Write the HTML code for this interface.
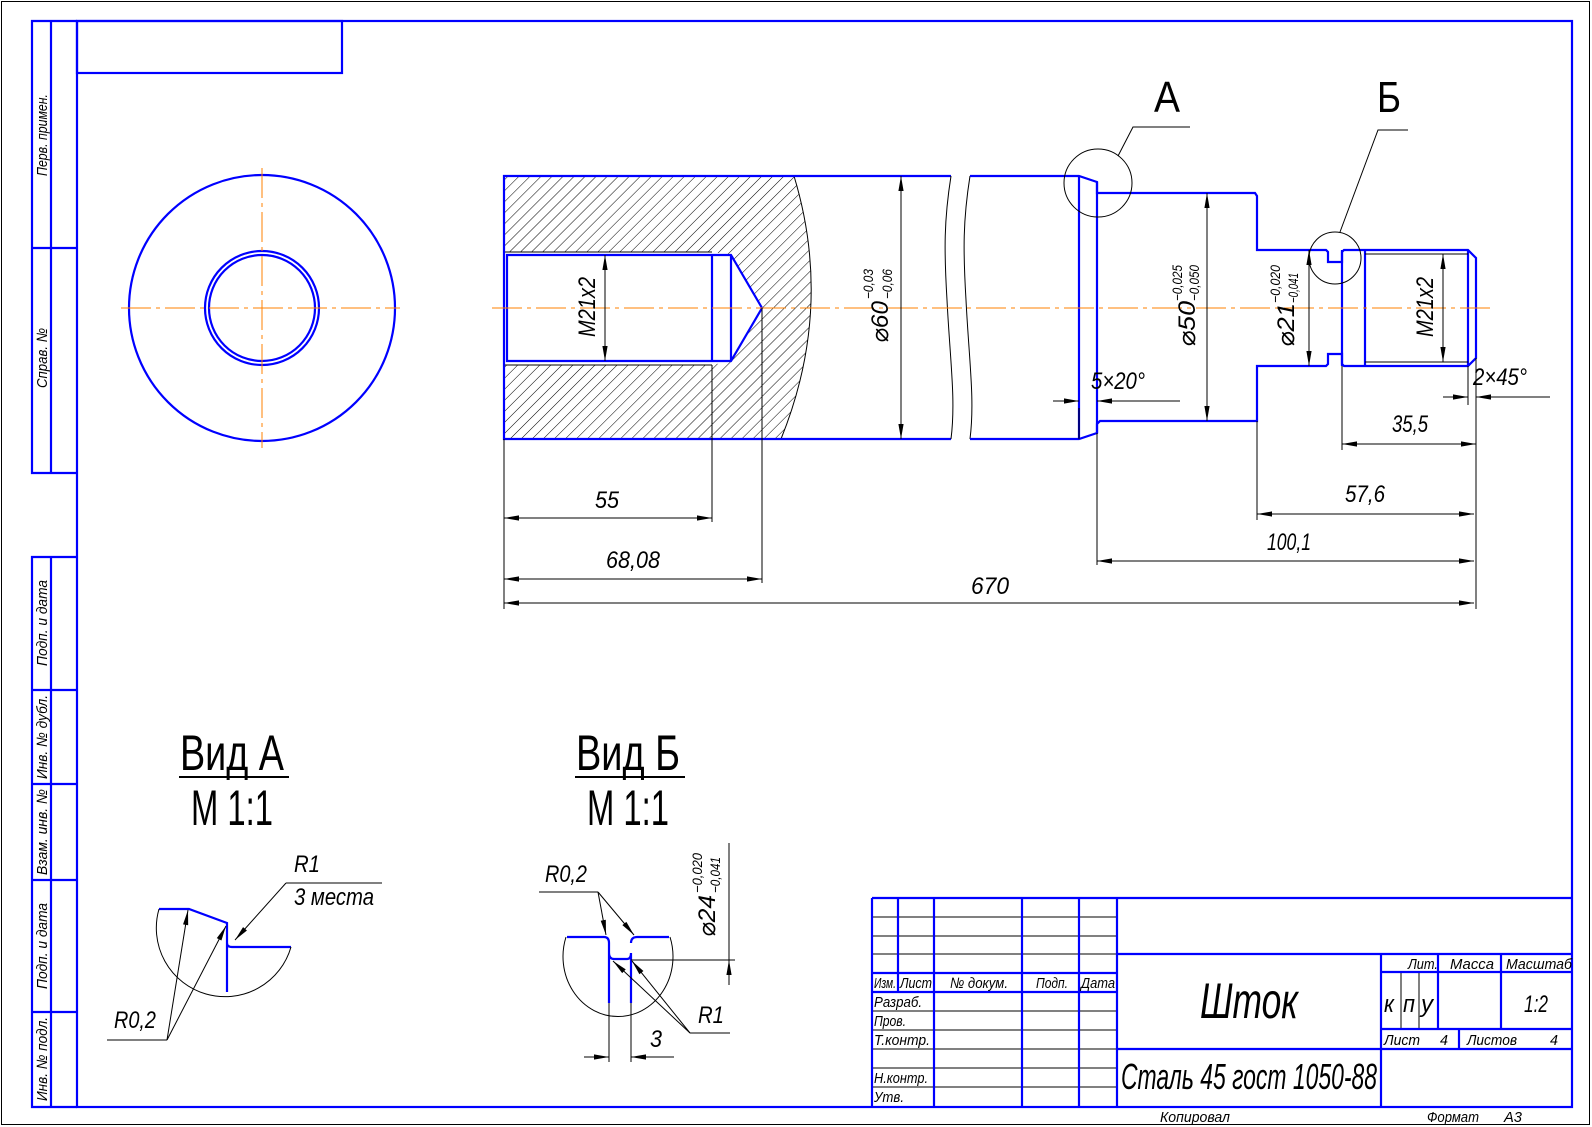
<!DOCTYPE html>
<html><head><meta charset="utf-8"><style>
html,body{margin:0;padding:0;background:#fff;}
svg{display:block;}
text{font-family:"Liberation Sans","DejaVu Sans",sans-serif;fill:#000;}
.i{font-style:italic;}
.b{stroke:#0000ff;stroke-width:2.2;fill:none;}
.t{stroke:#000;stroke-width:1;fill:none;}
.c{stroke:#ff8000;stroke-width:1;fill:none;stroke-dasharray:30 5 4 5;}
</style></head><body>
<svg width="1592" height="1127" viewBox="0 0 1592 1127" xmlns="http://www.w3.org/2000/svg">
<defs>
<marker id="a" viewBox="-16 -4 17 8" markerWidth="17" markerHeight="8" refX="0" refY="0" orient="auto-start-reverse" markerUnits="userSpaceOnUse">
<path d="M0,0 L-15,-2.6 L-15,2.6 Z" fill="#000"/></marker>
<pattern id="h" patternUnits="userSpaceOnUse" width="7.8" height="7.8" patternTransform="rotate(45)">
<line x1="0" y1="0" x2="0" y2="7.8" stroke="#000" stroke-width="1"/></pattern>
</defs>

<rect x="1.5" y="1.5" width="1588" height="1123" class="t"/>
<rect x="77" y="21" width="1495" height="1086" class="b"/>
<path class="b" d="M77,21 L32,21 L32,473 L77,473 M51,21 L51,473 M32,248 L77,248"/>
<path class="b" d="M77,557 L32,557 L32,1107 L77,1107 M51,557 L51,1107 M32,690 L77,690 M32,784 L77,784 M32,880 L77,880 M32,1012 L77,1012"/>
<rect x="77" y="21" width="265" height="52" class="b"/>
<g class="i" font-size="15">
<text transform="translate(47,135) rotate(-90)" text-anchor="middle" textLength="82" lengthAdjust="spacingAndGlyphs">Перв. примен.</text>
<text transform="translate(47,358) rotate(-90)" text-anchor="middle" textLength="60" lengthAdjust="spacingAndGlyphs">Справ. №</text>
<text transform="translate(47,623) rotate(-90)" text-anchor="middle" textLength="86" lengthAdjust="spacingAndGlyphs">Подп. и дата</text>
<text transform="translate(47,737) rotate(-90)" text-anchor="middle" textLength="84" lengthAdjust="spacingAndGlyphs">Инв. № дубл.</text>
<text transform="translate(47,832) rotate(-90)" text-anchor="middle" textLength="86" lengthAdjust="spacingAndGlyphs">Взам. инв. №</text>
<text transform="translate(47,946) rotate(-90)" text-anchor="middle" textLength="86" lengthAdjust="spacingAndGlyphs">Подп. и дата</text>
<text transform="translate(47,1059) rotate(-90)" text-anchor="middle" textLength="84" lengthAdjust="spacingAndGlyphs">Инв. № подл.</text>
</g>

<circle cx="262" cy="308" r="133" class="b"/>
<circle cx="262" cy="308" r="57" class="b"/>
<circle cx="262" cy="308" r="53" class="b"/>
<line x1="121" y1="308" x2="400" y2="308" class="c"/>
<line x1="262" y1="168" x2="262" y2="448" class="c"/>

<path fill="url(#h)" fill-rule="evenodd" d="M504,176 L794,176 Q834,308 781,439 L504,439 Z M504,252 L712,252 L731,255 L762,308 L731,361 L712,365 L504,365 Z"/>
<path class="t" d="M794,176 Q834,308 781,439"/>
<path class="t" d="M504,252 L712,252 M504,365 L712,365"/>
<path class="b" d="M951,176 L504,176 L504,439 L951,439"/>
<path class="b" d="M507,255 L731,255 L762,308 L731,361 L507,361 Z M712,255 L712,361 M731,255 L731,361"/>
<path class="t" d="M951,176 C944,220 944,250 947,300 C950,360 956,400 951,439"/>
<path class="t" d="M970,176 C963,220 963,250 966,300 C969,360 975,400 970,439"/>
<path class="b" d="M970,176 L1079,176 L1097,182 L1097,193 L1255,193 L1257,196 L1257,250 L1326,250 L1328,252 L1328,262 L1342,262 L1342,252 L1344,250 L1468,250 L1476,258 L1476,358 L1468,366 L1344,366 L1342,364 L1342,354 L1328,354 L1328,364 L1326,366 L1257,366 L1257,421 L1100,421 L1097,424 L1097,433 L1079,439 L970,439"/>
<path class="b" d="M1079,176 L1079,439 M1097,182 L1097,433 M1342,250 L1342,366 M1365,250 L1365,366 M1468,250 L1468,366"/>
<path class="t" d="M1365,254 L1468,254 M1365,362 L1468,362"/>
<line x1="492" y1="308" x2="1490" y2="308" class="c"/>

<circle cx="1098" cy="183" r="34" class="t"/>
<path class="t" d="M1118,156 L1133,127 L1190,127"/>
<text x="1167" y="112" font-size="44" text-anchor="middle" textLength="26" lengthAdjust="spacingAndGlyphs">А</text>
<circle cx="1335" cy="258" r="26" class="t"/>
<path class="t" d="M1340,232 L1378,130 L1408,130"/>
<text x="1389" y="112" font-size="44" text-anchor="middle" textLength="24" lengthAdjust="spacingAndGlyphs">Б</text>

<g class="t">
<path d="M901,176 L901,439" marker-start="url(#a)" marker-end="url(#a)"/>
<path d="M605,255 L605,361" marker-start="url(#a)" marker-end="url(#a)"/>
<path d="M1207,193 L1207,421" marker-start="url(#a)" marker-end="url(#a)"/>
<path d="M1309,250 L1309,366" marker-start="url(#a)" marker-end="url(#a)"/>
<path d="M1443,254 L1443,362" marker-start="url(#a)" marker-end="url(#a)"/>
<path d="M1079,439 L1079,408 M1097,433 L1097,565 M1257,421 L1257,520 M1342,366 L1342,450 M1468,366 L1468,405 M1476,358 L1476,609 M504,439 L504,609 M712,365 L712,522 M762,308 L762,583"/>
<path d="M1097,401 L1180,401"/>
<path d="M1053,401 L1079,401" marker-end="url(#a)"/>
<path d="M1122,401 L1097,401" marker-end="url(#a)"/>
<path d="M1443,397 L1468,397" marker-end="url(#a)"/>
<path d="M1550,397 L1476,397" marker-end="url(#a)"/>
<path d="M1342,444 L1476,444" marker-start="url(#a)" marker-end="url(#a)"/>
<path d="M1257,514 L1474,514" marker-start="url(#a)" marker-end="url(#a)"/>
<path d="M1097,561 L1474,561" marker-start="url(#a)" marker-end="url(#a)"/>
<path d="M504,603 L1474,603" marker-start="url(#a)" marker-end="url(#a)"/>
<path d="M504,518 L712,518" marker-start="url(#a)" marker-end="url(#a)"/>
<path d="M504,579 L762,579" marker-start="url(#a)" marker-end="url(#a)"/>
</g>
<g class="i" font-size="24">
<text x="1118" y="389" text-anchor="middle" textLength="54" lengthAdjust="spacingAndGlyphs">5×20°</text>
<text x="1500" y="385" text-anchor="middle" textLength="54" lengthAdjust="spacingAndGlyphs">2×45°</text>
<text x="1410" y="432" text-anchor="middle" textLength="36" lengthAdjust="spacingAndGlyphs">35,5</text>
<text x="1365" y="502" text-anchor="middle" textLength="40" lengthAdjust="spacingAndGlyphs">57,6</text>
<text x="1289" y="550" text-anchor="middle" textLength="44" lengthAdjust="spacingAndGlyphs">100,1</text>
<text x="990" y="594" text-anchor="middle" textLength="38" lengthAdjust="spacingAndGlyphs">670</text>
<text x="607" y="508" text-anchor="middle" textLength="24" lengthAdjust="spacingAndGlyphs">55</text>
<text x="633" y="568" text-anchor="middle" textLength="54" lengthAdjust="spacingAndGlyphs">68,08</text>
<text transform="translate(595,337) rotate(-90)" textLength="60" lengthAdjust="spacingAndGlyphs">M21x2</text>
<text transform="translate(1433,337) rotate(-90)" textLength="60" lengthAdjust="spacingAndGlyphs">M21x2</text>
<g transform="translate(888,343) rotate(-90)">
<text x="0" y="0" textLength="42" lengthAdjust="spacingAndGlyphs">⌀60</text>
<text x="44" y="-15" font-size="14" textLength="30" lengthAdjust="spacingAndGlyphs">−0,03</text>
<text x="44" y="4" font-size="14" textLength="30" lengthAdjust="spacingAndGlyphs">−0,06</text>
</g>
<g transform="translate(1195,347) rotate(-90)">
<text x="0" y="0" textLength="46" lengthAdjust="spacingAndGlyphs">⌀50</text>
<text x="46" y="-13" font-size="14" textLength="36" lengthAdjust="spacingAndGlyphs">−0,025</text>
<text x="46" y="4" font-size="14" textLength="36" lengthAdjust="spacingAndGlyphs">−0,050</text>
</g>
<g transform="translate(1294,347) rotate(-90)">
<text x="0" y="0" textLength="44" lengthAdjust="spacingAndGlyphs">⌀21</text>
<text x="44" y="-14" font-size="14" textLength="38" lengthAdjust="spacingAndGlyphs">−0,020</text>
<text x="44" y="4" font-size="14" textLength="30" lengthAdjust="spacingAndGlyphs">−0,041</text>
</g>
<g transform="translate(715,937) rotate(-90)">
<text x="0" y="0" textLength="42" lengthAdjust="spacingAndGlyphs">⌀24</text>
<text x="44" y="-13" font-size="14" textLength="40" lengthAdjust="spacingAndGlyphs">−0,020</text>
<text x="44" y="5" font-size="14" textLength="36" lengthAdjust="spacingAndGlyphs">−0,041</text>
</g>
</g>

<g font-size="50">
<text x="232" y="770" text-anchor="middle" textLength="104" lengthAdjust="spacingAndGlyphs">Вид А</text>
<text x="232" y="825" text-anchor="middle" textLength="82" lengthAdjust="spacingAndGlyphs">М 1:1</text>
<text x="628" y="770" text-anchor="middle" textLength="104" lengthAdjust="spacingAndGlyphs">Вид Б</text>
<text x="628" y="825" text-anchor="middle" textLength="82" lengthAdjust="spacingAndGlyphs">М 1:1</text>
</g>
<line x1="179" y1="777" x2="289" y2="777" stroke="#000" stroke-width="2"/>
<line x1="575" y1="777" x2="685" y2="777" stroke="#000" stroke-width="2"/>

<path class="b" d="M159,909 L189,909 L227,923 L227,943 Q227,947 232,947 L291,947 M227,943 L227,992"/>
<path class="t" d="M159,909 A68 68 0 0 0 291,947"/>
<path class="t" d="M286,883 L382,883"/>
<path class="t" d="M286,883 L235,940" marker-end="url(#a)"/>
<path class="t" d="M107,1040 L167,1040"/>
<path class="t" d="M167,1040 L188,910" marker-end="url(#a)"/>
<path class="t" d="M167,1040 L226,926" marker-end="url(#a)"/>
<g class="i" font-size="24">
<text x="294" y="872" textLength="26" lengthAdjust="spacingAndGlyphs">R1</text>
<text x="294" y="905" textLength="80" lengthAdjust="spacingAndGlyphs">3 места</text>
<text x="114" y="1028" textLength="42" lengthAdjust="spacingAndGlyphs">R0,2</text>
</g>

<path class="b" d="M567,937 L604,937 Q609,937 609,943 L609,1003 M609,953 Q609,959 614,959 L627,959 Q631,959 631,953 L631,1003 M631,943 Q631,937 637,937 L669,937"/>
<path class="t" d="M566,937 A55 60 0 1 0 670,937"/>
<path class="t" d="M539,892 L598,892"/>
<path class="t" d="M598,892 L606,935" marker-end="url(#a)"/>
<path class="t" d="M598,892 L634,935" marker-end="url(#a)"/>
<path class="t" d="M690,1033 L730,1033"/>
<path class="t" d="M690,1033 L613,961" marker-end="url(#a)"/>
<path class="t" d="M690,1033 L632,961" marker-end="url(#a)"/>
<path class="t" d="M609,1003 L609,1062 M631,1003 L631,1062 M631,960 L735,960 M729,843 L729,960"/>
<path class="t" d="M584,1057 L609,1057" marker-end="url(#a)"/>
<path class="t" d="M674,1057 L631,1057" marker-end="url(#a)"/>
<path class="t" d="M729,985 L729,960" marker-end="url(#a)"/>
<g class="i" font-size="24">
<text x="545" y="882" textLength="42" lengthAdjust="spacingAndGlyphs">R0,2</text>
<text x="698" y="1023" textLength="26" lengthAdjust="spacingAndGlyphs">R1</text>
<text x="650" y="1047" textLength="12" lengthAdjust="spacingAndGlyphs">3</text>
</g>

<g class="t">
<path d="M872,917 L1117,917 M872,936 L1117,936 M872,954 L1117,954 M872,1011 L1117,1011 M872,1030 L1117,1030 M872,1049 L1117,1049 M872,1068 L1117,1068 M872,1087 L1117,1087 M1401,972 L1401,1029 M1419,972 L1419,1029"/>
</g>
<g class="b">
<path d="M872,898 L1572,898 M872,898 L872,1107 M898,898 L898,992 M934,898 L934,1107 M1022,898 L1022,1107 M1079,898 L1079,1107 M1117,898 L1117,1107"/>
<path d="M872,973 L1117,973 M872,992 L1117,992 M1117,954 L1572,954 M1117,1049 L1572,1049 M1381,954 L1381,1107 M1438,954 L1438,1029 M1501,954 L1501,1029 M1381,972 L1572,972 M1381,1029 L1572,1029 M1459,1029 L1459,1049"/>
</g>
<g class="i" font-size="15">
<text x="874" y="988" textLength="22" lengthAdjust="spacingAndGlyphs">Изм.</text>
<text x="900" y="988" textLength="32" lengthAdjust="spacingAndGlyphs">Лист</text>
<text x="950" y="988" textLength="58" lengthAdjust="spacingAndGlyphs">№ докум.</text>
<text x="1036" y="988" textLength="32" lengthAdjust="spacingAndGlyphs">Подп.</text>
<text x="1081" y="988" textLength="34" lengthAdjust="spacingAndGlyphs">Дата</text>
<text x="874" y="1007" textLength="48" lengthAdjust="spacingAndGlyphs">Разраб.</text>
<text x="874" y="1026" textLength="32" lengthAdjust="spacingAndGlyphs">Пров.</text>
<text x="874" y="1045" textLength="56" lengthAdjust="spacingAndGlyphs">Т.контр.</text>
<text x="874" y="1083" textLength="54" lengthAdjust="spacingAndGlyphs">Н.контр.</text>
<text x="874" y="1102" textLength="30" lengthAdjust="spacingAndGlyphs">Утв.</text>
<text x="1408" y="969" textLength="30" lengthAdjust="spacingAndGlyphs">Лит.</text>
<text x="1450" y="969" textLength="44" lengthAdjust="spacingAndGlyphs">Масса</text>
<text x="1506" y="969" textLength="66" lengthAdjust="spacingAndGlyphs">Масштаб</text>
<text x="1384" y="1045" textLength="36" lengthAdjust="spacingAndGlyphs">Лист</text>
<text x="1440" y="1045" textLength="8" lengthAdjust="spacingAndGlyphs">4</text>
<text x="1467" y="1045" textLength="50" lengthAdjust="spacingAndGlyphs">Листов</text>
<text x="1550" y="1045" textLength="8" lengthAdjust="spacingAndGlyphs">4</text>
<text x="1160" y="1122" textLength="70" lengthAdjust="spacingAndGlyphs">Копировал</text>
<text x="1427" y="1122" textLength="52" lengthAdjust="spacingAndGlyphs">Формат</text>
<text x="1504" y="1122" textLength="18" lengthAdjust="spacingAndGlyphs">А3</text>
</g>
<g class="i" font-size="24">
<text x="1384" y="1012" textLength="10" lengthAdjust="spacingAndGlyphs">к</text>
<text x="1403" y="1012" textLength="12" lengthAdjust="spacingAndGlyphs">п</text>
<text x="1421" y="1012" textLength="12" lengthAdjust="spacingAndGlyphs">у</text>
<text x="1536" y="1012" text-anchor="middle" textLength="24" lengthAdjust="spacingAndGlyphs">1:2</text>
</g>
<text class="i" x="1249" y="1018" font-size="50" text-anchor="middle" textLength="98" lengthAdjust="spacingAndGlyphs">Шток</text>
<text class="i" x="1249" y="1089" font-size="36" text-anchor="middle" textLength="256" lengthAdjust="spacingAndGlyphs">Сталь 45 гост 1050-88</text>
</svg>
</body></html>
